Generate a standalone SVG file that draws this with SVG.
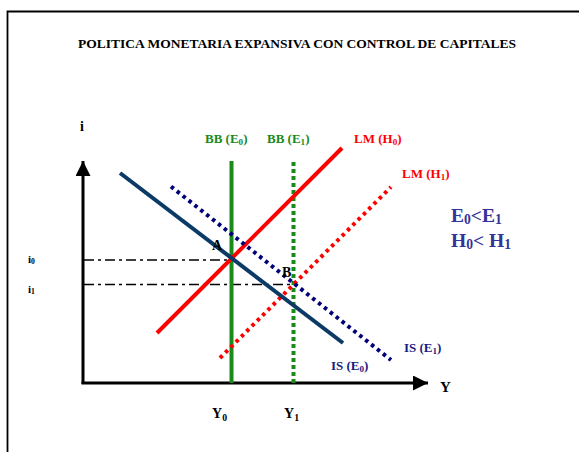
<svg xmlns="http://www.w3.org/2000/svg" width="579" height="452" viewBox="0 0 579 452">
<defs>
<style>
text{font-family:"Liberation Serif","Times New Roman",serif;font-weight:bold}
.g{fill:#1a8a1a}
.r{fill:#ff0000}
.b{fill:#1a1a80}
.k{fill:#000}
.sub{font-size:70%}
</style>
<marker id="ah" viewBox="0 0 10 10" refX="10" refY="5" markerWidth="5" markerHeight="5" orient="auto" markerUnits="strokeWidth">
<path d="M0,0 L10,5 L0,10 Z" fill="#000"/>
</marker>
</defs>
<rect width="579" height="452" fill="#fff"/>
<path d="M7.5,460 V11.5 H590" fill="none" stroke="#000" stroke-width="1.8"/>
<text x="297" y="48" text-anchor="middle" font-size="13.5" class="k">POLITICA MONETARIA EXPANSIVA CON CONTROL DE CAPITALES</text>
<g id="connectors">
<line x1="83" y1="384" x2="83" y2="161" stroke="#000" stroke-width="3" marker-end="url(#ah)"/>
<line x1="81.5" y1="383" x2="428" y2="383" stroke="#000" stroke-width="3" marker-end="url(#ah)"/>
<line x1="84" y1="260" x2="231" y2="260" stroke="#000" stroke-width="1.5" stroke-dasharray="10,4,3,4"/>
<line x1="84" y1="284.5" x2="291" y2="284.5" stroke="#000" stroke-width="1.5" stroke-dasharray="10,4,3,4"/>
</g>
<g id="BB_E0">
<line x1="231.5" y1="161" x2="231.5" y2="383" stroke="#1a8a1a" stroke-width="4"/>
<text x="205" y="143" font-size="13" class="g">BB (E<tspan class="sub" dy="2">0</tspan><tspan dy="-2">)</tspan></text>
</g>
<g id="BB_E1">
<line x1="293.5" y1="162" x2="293.5" y2="383" stroke="#1a8a1a" stroke-width="4" stroke-dasharray="4,3"/>
<text x="267" y="143" font-size="13" class="g">BB (E<tspan class="sub" dy="2">1</tspan><tspan dy="-2">)</tspan></text>
</g>
<g id="LM_H0">
<line x1="157" y1="333" x2="342" y2="148" stroke="#ff0000" stroke-width="4"/>
<text x="354" y="143" font-size="13" class="r">LM (H<tspan class="sub" dy="2">0</tspan><tspan dy="-2">)</tspan></text>
</g>
<g id="LM_H1">
<line x1="220" y1="358" x2="391" y2="187" stroke="#ff0000" stroke-width="4" stroke-dasharray="3.5,4"/>
<text x="402" y="178" font-size="13" class="r">LM (H<tspan class="sub" dy="2">1</tspan><tspan dy="-2">)</tspan></text>
</g>
<g id="IS_E0">
<line x1="120" y1="173" x2="343" y2="343" stroke="#0b3a66" stroke-width="4"/>
<text x="331" y="370" font-size="13" class="b">IS (E<tspan class="sub" dy="2">0</tspan><tspan dy="-2">)</tspan></text>
</g>
<g id="IS_E1">
<line x1="171" y1="186.5" x2="391" y2="360" stroke="#00007a" stroke-width="4" stroke-dasharray="3.5,4"/>
<text x="404" y="352" font-size="13" class="b">IS (E<tspan class="sub" dy="2">1</tspan><tspan dy="-2">)</tspan></text>
</g>
<g id="point_A"><text x="212" y="250" font-size="14" class="k">A</text></g>
<g id="point_B"><text x="282" y="277" font-size="14" class="k">B</text></g>
<g id="labels">
<text x="80" y="131" font-size="14" class="k">i</text>
<text x="28" y="263" font-size="11" class="k">i<tspan class="sub" dy="1">0</tspan></text>
<text x="28" y="293" font-size="11" class="k">i<tspan class="sub" dy="1">1</tspan></text>
<text x="440" y="392" font-size="15" class="k">Y</text>
<text x="212" y="418" font-size="14" class="k">Y<tspan class="sub" dy="3">0</tspan></text>
<text x="284" y="418" font-size="14" class="k">Y<tspan class="sub" dy="3">1</tspan></text>
<text x="451" y="222" font-size="19.5" fill="#333399">E<tspan class="sub" dy="2">0</tspan><tspan dy="-2">&lt;E</tspan><tspan class="sub" dy="2">1</tspan></text>
<text x="451" y="247" font-size="19.5" fill="#333399">H<tspan class="sub" dy="2">0</tspan><tspan dy="-2">&lt; H</tspan><tspan class="sub" dy="2">1</tspan></text>
</g>
</svg>
